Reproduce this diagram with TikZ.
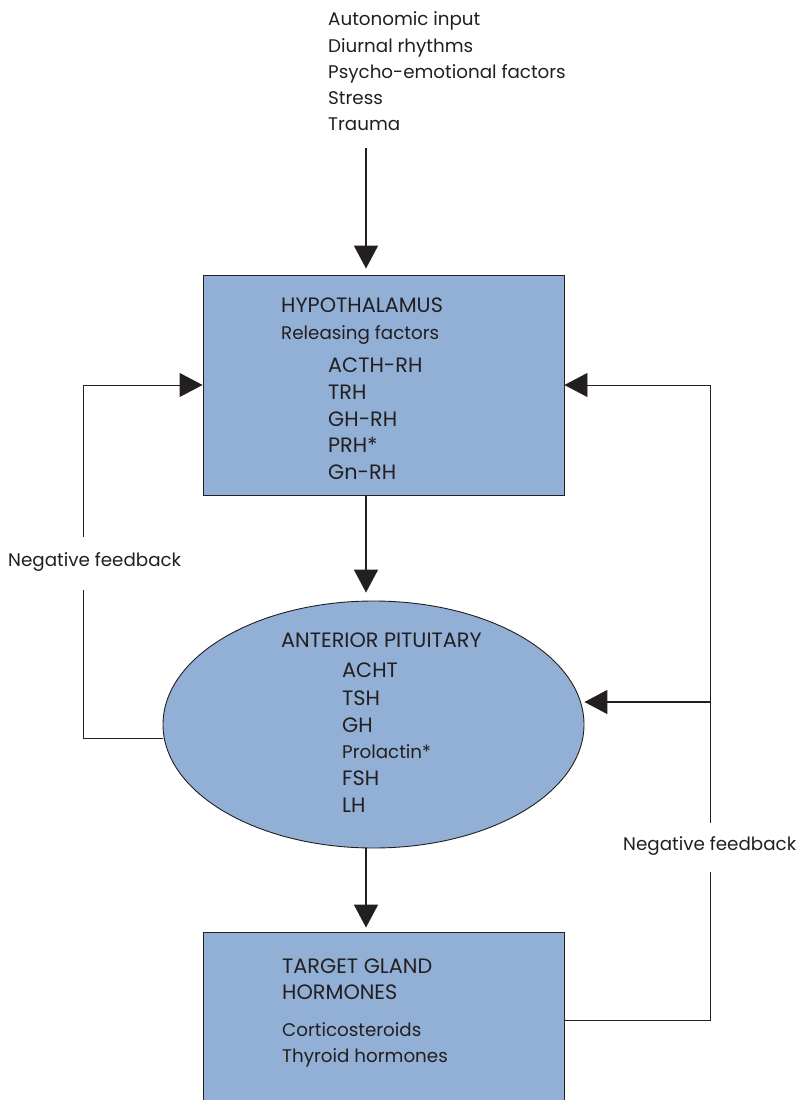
\documentclass[tikz,border=0pt]{standalone}
\usepackage{fontspec}
\setmainfont{Poppins}
\usetikzlibrary{arrows.meta,shapes.geometric}
\definecolor{boxfill}{RGB}{146,176,214}
\definecolor{ink}{RGB}{35,31,32}
\begin{document}
\begin{tikzpicture}[x=1pt,y=-1pt,
  txt/.style={anchor=base west,inner sep=0pt,font=\fontsize{18.3}{22}\selectfont,text=ink},
  caps/.style={anchor=base west,inner sep=0pt,font=\fontsize{20.8}{24}\selectfont,text=ink},
  organ/.style={draw=ink,line width=0.9pt,fill=boxfill,inner sep=0pt},
  mainarrow/.style={draw=ink,line width=1.7pt,-{Triangle[width=24pt,length=23pt]}},
  fbline/.style={draw=ink,line width=0.9pt},
  fbarrow/.style={draw=ink,line width=0.9pt,-{Triangle[width=24pt,length=23pt]}},
  fbarrowthick/.style={draw=ink,line width=1.7pt,-{Triangle[width=24pt,length=23pt]}},
  fblabel/.style={txt,text height=15pt,text depth=10pt,inner xsep=0pt}]
\useasboundingbox (0,0) rectangle (802,1100);
\clip (0,0) rectangle (802,1100);
\fill[white] (0,0) rectangle (802,1100);

% organs
\node[organ,minimum width=361pt,minimum height=220pt] (hyp) at (383.5,385) {};
\node[organ,ellipse,minimum width=421pt,minimum height=247pt] (pit) at (373.5,724.5) {};
\node[organ,minimum width=361pt,minimum height=200pt] (tgt) at (383.5,1032) {};

% input text
\node[txt] (in1) at (328,25) {Autonomic input};
\node[txt] (in2) at (328,52) {Diurnal rhythms};
\node[txt] (in3) at (328,78) {Psycho-emotional factors};
\node[txt] (in4) at (328,104) {Stress};
\node[txt] (in5) at (328,130) {Trauma};

% hypothalamus text
\node[caps] (h1) at (281,312) {HYPOTHALAMUS};
\node[txt] (h2) at (281,339) {Releasing factors};
\node[caps] (h3) at (328,372) {ACTH-RH};
\node[caps] (h4) at (328,399) {TRH};
\node[caps] (h5) at (328,426) {GH-RH};
\node[caps] (h6) at (328,452) {PRH*};
\node[caps] (h7) at (328,479) {Gn-RH};

% pituitary text
\node[caps] (p1) at (281,647) {ANTERIOR PITUITARY};
\node[caps] (p2) at (342,677) {ACHT};
\node[caps] (p3) at (342,705) {TSH};
\node[caps] (p4) at (342,732) {GH};
\node[txt] (p5) at (342,758) {Prolactin*};
\node[caps] (p6) at (342,785) {FSH};
\node[caps] (p7) at (342,812) {LH};

% target text
\node[caps] (t1) at (282,973) {TARGET GLAND};
\node[caps] (t2) at (282,999) {HORMONES};
\node[txt] (t3) at (282,1036) {Corticosteroids};
\node[txt] (t4) at (282,1062) {Thyroid hormones};

% feedback labels
\node[fblabel,inner ysep=14pt] (nfl) at (8,566) {Negative feedback};
\node[fblabel,inner ysep=12pt] (nfr) at (623,850) {Negative feedback};

% main arrows
\coordinate (inp) at (366,148);
\draw[mainarrow] (inp) -- ([yshift=6pt]hyp.north -| inp);
\draw[mainarrow] (hyp.south -| inp) -- ([yshift=8pt]pit.north -| inp);
\draw[mainarrow] (pit.south -| inp) -- ([yshift=4pt]tgt.north -| inp);

% left feedback
\coordinate (L1) at (83,385);
\coordinate (L2) at (83,738);
\draw[fbline] (L2 -| pit.west) -- (L2) -- (nfl.south -| L2);
\draw[fbarrow] (nfl.north -| L1) -- (L1) -- (hyp.west |- L1);

% right feedback
\coordinate (R1) at (710,1020);
\coordinate (R2) at (710,385);
\coordinate (R3) at (710,702);
\draw[fbline] (tgt.east |- R1) -- (R1) -- (nfr.south -| R1);
\draw[fbarrow] (nfr.north -| R2) -- (R2) -- (hyp.east |- R2);
\draw[fbarrowthick] (R3) -- (pit.east |- R3);
\end{tikzpicture}
\end{document}
